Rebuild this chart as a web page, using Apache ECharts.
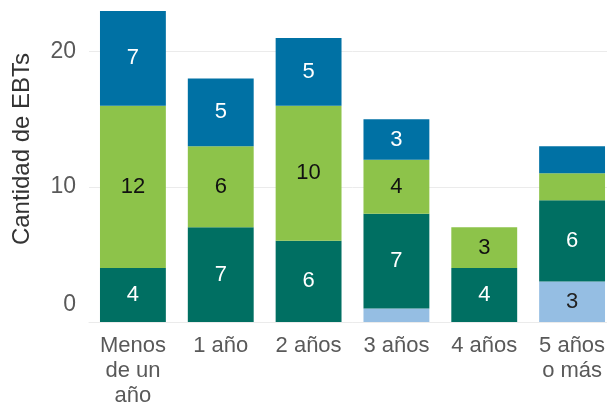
<!DOCTYPE html>
<html>
<head>
<meta charset="utf-8">
<script src="https://cdn.jsdelivr.net/npm/echarts@6/dist/echarts.min.js"></script>
<style>
  html, body { margin: 0; padding: 0; background: #fff; overflow: hidden; }
  #main { width: 616px; height: 408px; }
</style>
</head>
<body>
<div id="main"></div>
<script>
// categorias y series (de abajo hacia arriba)
var categorias = ['Menos\nde un\naño', '1 año', '2 años', '3 años', '4 años', '5 años\no más'];
var celeste = [0, 0, 0, 1, 0, 3];
var verdeOscuro = [4, 7, 6, 7, 4, 6];
var verdeClaro = [12, 6, 10, 4, 3, 2];
var azul = [7, 5, 5, 3, 0, 2];
var ticksY = [0, 10, 20];

var fuente = 'Liberation Sans, Arial, sans-serif';

function serie(nombre, datos, color, colorTexto) {
  return {
    name: nombre,
    type: 'bar',
    stack: 'total',
    data: datos,
    barCategoryGap: '25%',
    itemStyle: { color: color },
    label: {
      show: true,
      position: 'inside',
      color: colorTexto,
      fontSize: 22,
      fontFamily: fuente,
      formatter: function (p) { return p.value >= 3 ? p.value : ''; }
    }
  };
}

var myChart = echarts.init(document.getElementById('main'));
var option = {
  animation: false,
  grid: { left: 89, right: 0, top: 11, bottom: 86 },
  graphic: [{
    type: 'text',
    x: 22,
    y: 149,
    rotation: Math.PI / 2,
    style: {
      text: 'Cantidad de EBTs',
      fill: '#333',
      font: '24px Liberation Sans, Arial, sans-serif',
      textAlign: 'center',
      textVerticalAlign: 'middle'
    }
  }],
  xAxis: {
    type: 'category',
    data: categorias,
    axisLine: { show: true, lineStyle: { color: '#ebebeb' } },
    axisTick: { show: false },
    axisLabel: {
      color: '#595959',
      fontSize: 22,
      fontFamily: fuente,
      lineHeight: 25,
      margin: 11,
      interval: 0
    }
  },
  yAxis: {
    type: 'value',
    min: 0,
    max: 23,
    interval: 10,
    axisLine: { show: false },
    axisTick: { show: false },
    splitLine: { showMaxLine: false, lineStyle: { color: '#ebebeb' } },
    axisLabel: {
      color: '#595959',
      fontSize: 23,
      fontFamily: fuente,
      margin: 13,
      formatter: function (v) {
        if (v === 0) return '{cero|0}';
        return ticksY.indexOf(v) >= 0 ? v : '';
      },
      rich: {
        cero: { color: '#595959', fontSize: 23, fontFamily: fuente, padding: [0, 0, 34, 0] }
      }
    }
  },
  series: [
    serie('celeste', celeste, '#95bee3', '#222'),
    serie('verdeOscuro', verdeOscuro, '#006f62', '#fff'),
    serie('verdeClaro', verdeClaro, '#8dc34a', '#111'),
    serie('azul', azul, '#0071a4', '#fff')
  ]
};
myChart.setOption(option);
</script>
</body>
</html>
